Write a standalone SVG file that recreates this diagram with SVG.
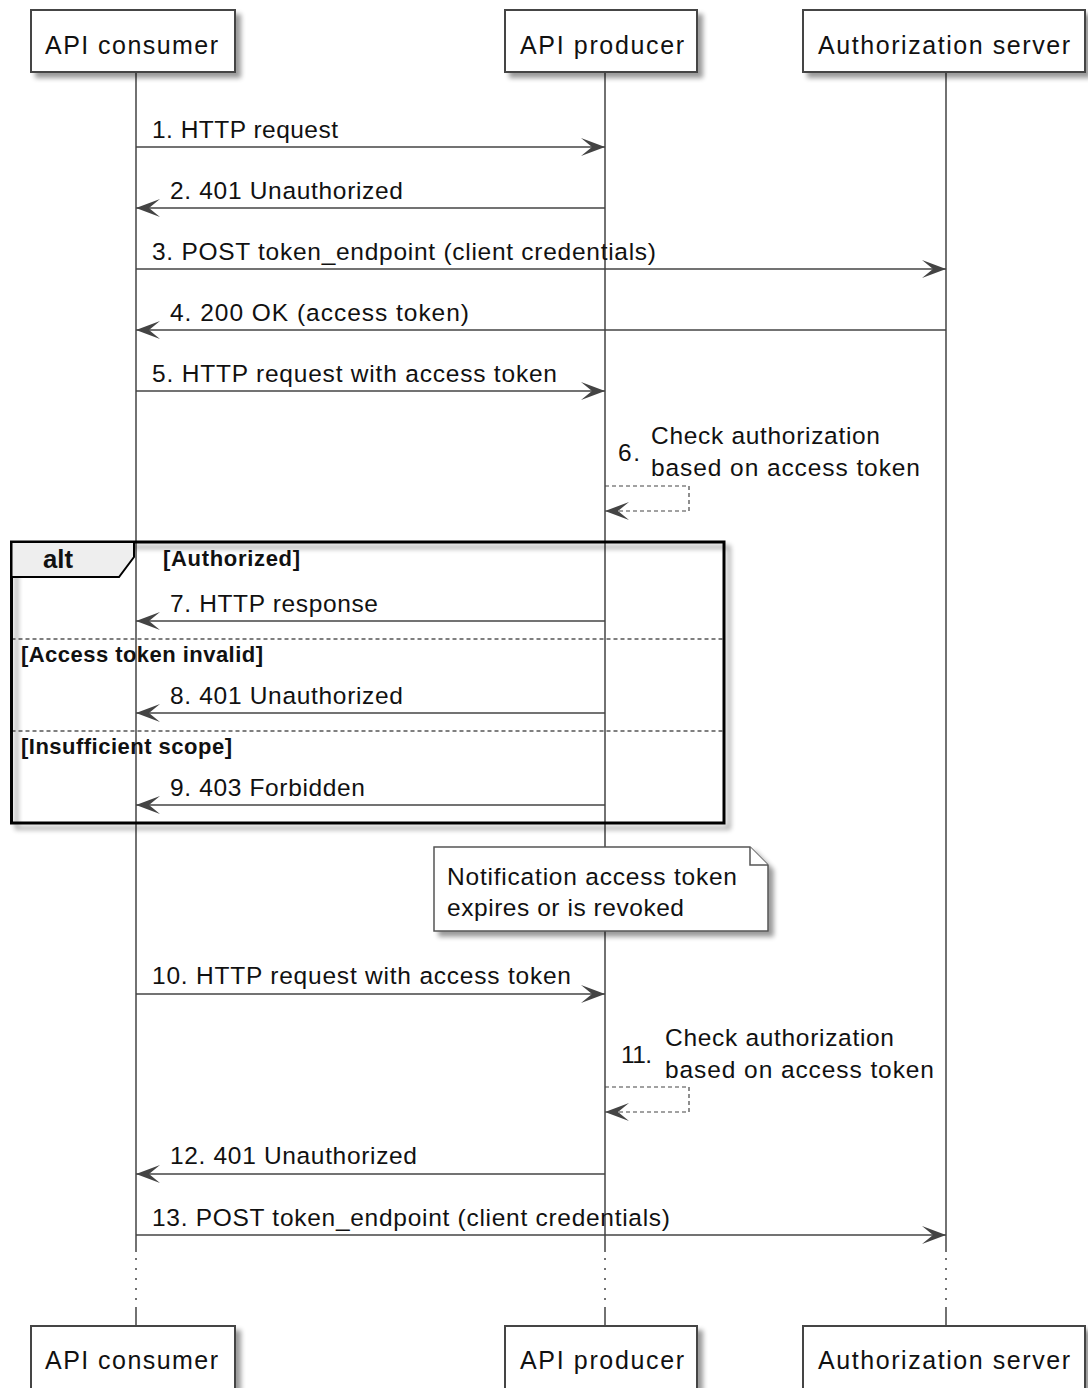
<svg xmlns="http://www.w3.org/2000/svg" width="1088" height="1388" viewBox="0 0 1088 1388">
  <defs>
    <!-- soft drop shadow used by participants, note and the alt frame -->
    <filter id="shadow" x="-10%" y="-10%" width="130%" height="140%">
      <feGaussianBlur in="SourceAlpha" stdDeviation="2.5"/>
      <feOffset dx="5" dy="5"/>
      <feComponentTransfer><feFuncA type="linear" slope="0.4"/></feComponentTransfer>
      <feMerge><feMergeNode/><feMergeNode in="SourceGraphic"/></feMerge>
    </filter>
    <marker id="arrow" markerUnits="userSpaceOnUse" markerWidth="26" markerHeight="20" refX="24" refY="10" orient="auto" viewBox="0 0 26 20">
      <path d="M0,1 L24,10 L0,19 L11,10 Z" fill="#444"/>
    </marker>
  </defs>
  <style>
    text { font-family: "Liberation Sans", Arial, sans-serif; fill: #111; }
    .participant rect { fill: #fff; stroke: #444; stroke-width: 2; }
    .participant text { font-size: 25px; }
    .lifeline { stroke: #444; stroke-width: 1.5; fill: none; }
    .lifeline-gap { stroke: #444; stroke-width: 1.5; stroke-dasharray: 2 8; fill: none; }
    .msg { stroke: #444; stroke-width: 1.5; fill: none; marker-end: url(#arrow); }
    .reply { stroke: #444; stroke-width: 1.2; fill: none; stroke-dasharray: 4 3; marker-end: url(#arrow); }
    .label { font-size: 24.5px; }
    .frame { fill: none; stroke: #000; stroke-width: 3; }
    .tab { fill: #eeeeee; stroke: #000; stroke-width: 2; }
    .divider { stroke: #000; stroke-width: 1.2; stroke-dasharray: 4 3; }
    .keyword { font-size: 25px; font-weight: bold; }
    .guard { font-size: 22px; font-weight: bold; }
    .note path { fill: #fff; stroke: #555; stroke-width: 1.5; }
  </style>

  <!-- lifelines -->
  <g id="lifelines">
    <path class="lifeline" d="M136,73 V1252 M136,1307 V1326 M605,73 V1252 M605,1307 V1326 M946,73 V1252 M946,1307 V1326"/>
    <path class="lifeline-gap" d="M136,1258 V1304 M605,1258 V1304 M946,1258 V1304"/>
  </g>

  <!-- alt combined fragment -->
  <g id="alt-fragment">
    <rect class="frame" x="11.5" y="542" width="712.5" height="281" filter="url(#shadow)"/>
    <path class="tab" d="M11.5,542 H134 V557 L119,577 H11.5 Z"/>
    <line class="divider" x1="11.5" y1="639" x2="724" y2="639"/>
    <line class="divider" x1="11.5" y1="731" x2="724" y2="731"/>
    <text class="keyword" x="43" y="568" textLength="30" lengthAdjust="spacingAndGlyphs">alt</text>
    <text class="guard" x="163" y="566" textLength="137" lengthAdjust="spacing">[Authorized]</text>
    <text class="guard" x="21" y="662" textLength="242" lengthAdjust="spacing">[Access token invalid]</text>
    <text class="guard" x="21" y="754" textLength="211" lengthAdjust="spacing">[Insufficient scope]</text>
  </g>

  <!-- messages -->
  <g id="messages">
    <path class="msg" d="M136,147 H605"/>
    <text class="label" x="152" y="138" textLength="186" lengthAdjust="spacing">1. HTTP request</text>

    <path class="msg" d="M605,208 H136"/>
    <text class="label" x="170" y="199" textLength="233" lengthAdjust="spacing">2. 401 Unauthorized</text>

    <path class="msg" d="M136,269 H946"/>
    <text class="label" x="152" y="260" textLength="504" lengthAdjust="spacing">3. POST token_endpoint (client credentials)</text>

    <path class="msg" d="M946,330 H136"/>
    <text class="label" x="170" y="321" textLength="299" lengthAdjust="spacing">4. 200 OK (access token)</text>

    <path class="msg" d="M136,391 H605"/>
    <text class="label" x="152" y="382" textLength="405" lengthAdjust="spacing">5. HTTP request with access token</text>

    <path class="reply" d="M605,486 H689 V511 H605"/>
    <text class="label" x="618" y="461" textLength="22" lengthAdjust="spacing">6.</text>
    <text class="label" x="651" y="444" textLength="229" lengthAdjust="spacing">Check authorization</text>
    <text class="label" x="651" y="476" textLength="269" lengthAdjust="spacing">based on access token</text>

    <path class="msg" d="M605,621 H136"/>
    <text class="label" x="170" y="612" textLength="208" lengthAdjust="spacing">7. HTTP response</text>

    <path class="msg" d="M605,713 H136"/>
    <text class="label" x="170" y="704" textLength="233" lengthAdjust="spacing">8. 401 Unauthorized</text>

    <path class="msg" d="M605,805 H136"/>
    <text class="label" x="170" y="796" textLength="195" lengthAdjust="spacing">9. 403 Forbidden</text>

    <path class="msg" d="M136,994 H605"/>
    <text class="label" x="152" y="984" textLength="419" lengthAdjust="spacing">10. HTTP request with access token</text>

    <path class="reply" d="M605,1087 H689 V1112 H605"/>
    <text class="label" x="621" y="1063" textLength="31" lengthAdjust="spacing">11.</text>
    <text class="label" x="665" y="1046" textLength="229" lengthAdjust="spacing">Check authorization</text>
    <text class="label" x="665" y="1078" textLength="269" lengthAdjust="spacing">based on access token</text>

    <path class="msg" d="M605,1174 H136"/>
    <text class="label" x="170" y="1164" textLength="247" lengthAdjust="spacing">12. 401 Unauthorized</text>

    <path class="msg" d="M136,1235 H946"/>
    <text class="label" x="152" y="1226" textLength="518" lengthAdjust="spacing">13. POST token_endpoint (client credentials)</text>
  </g>

  <!-- note over the producer -->
  <g id="note-token-expiry" class="note">
    <path d="M434,847 H750 L768,865 V931 H434 Z" filter="url(#shadow)"/>
    <path d="M750,847 V865 H768"/>
    <text class="label" x="447" y="885" textLength="290" lengthAdjust="spacing">Notification access token</text>
    <text class="label" x="447" y="916" textLength="237" lengthAdjust="spacing">expires or is revoked</text>
  </g>

  <!-- participants, top -->
  <g id="consumer-top" class="participant">
    <rect x="31" y="10" width="204" height="62" filter="url(#shadow)"/>
    <text x="45" y="54" textLength="173" lengthAdjust="spacing">API consumer</text>
  </g>
  <g id="producer-top" class="participant">
    <rect x="505" y="10" width="192" height="62" filter="url(#shadow)"/>
    <text x="520" y="54" textLength="164" lengthAdjust="spacing">API producer</text>
  </g>
  <g id="authserver-top" class="participant">
    <rect x="803" y="10" width="282" height="62" filter="url(#shadow)"/>
    <text x="818" y="54" textLength="252" lengthAdjust="spacing">Authorization server</text>
  </g>

  <!-- participants, bottom -->
  <g id="consumer-bottom" class="participant">
    <rect x="31" y="1326" width="204" height="64" filter="url(#shadow)"/>
    <text x="45" y="1369" textLength="173" lengthAdjust="spacing">API consumer</text>
  </g>
  <g id="producer-bottom" class="participant">
    <rect x="505" y="1326" width="192" height="64" filter="url(#shadow)"/>
    <text x="520" y="1369" textLength="164" lengthAdjust="spacing">API producer</text>
  </g>
  <g id="authserver-bottom" class="participant">
    <rect x="803" y="1326" width="282" height="64" filter="url(#shadow)"/>
    <text x="818" y="1369" textLength="252" lengthAdjust="spacing">Authorization server</text>
  </g>
</svg>
